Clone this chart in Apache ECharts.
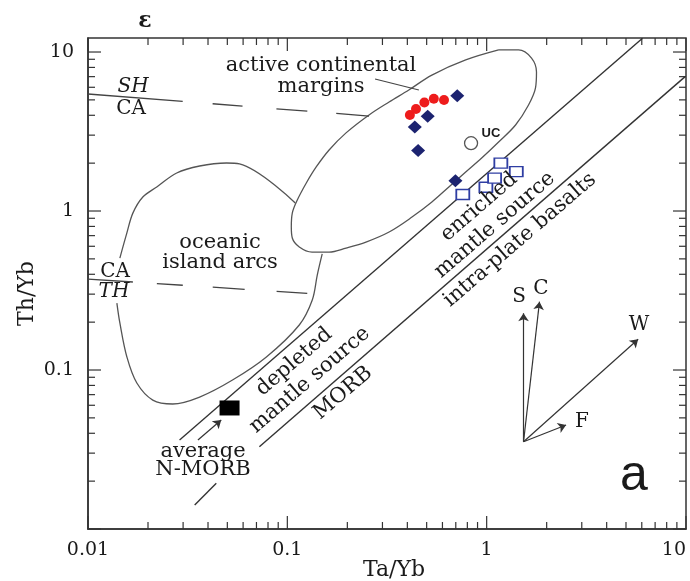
<!DOCTYPE html>
<html><head><meta charset="utf-8">
<script src="https://cdn.jsdelivr.net/npm/echarts@6/dist/echarts.min.js"></script>
<style>html,body{margin:0;padding:0;background:#fff}#c{width:690px;height:581px}</style>
</head><body><div id="c"></div>
<script>
// ---- axis ranges and ticks ----
const X_MIN = 0.01, X_MAX = 10;
const Y_MIN = 0.01, Y_MAX = 12.25;
const xTickLabels = [0.01, 0.1, 1, 10];
const yTickLabels = [0.1, 1, 10];
const xMajorTicks = [0.01, 0.1, 1, 10];
const xMinorTicks = [0.02,0.03,0.04,0.05,0.06,0.07,0.08,0.09,0.2,0.3,0.4,0.5,0.6,0.7,0.8,0.9,2,3,4,5,6,7,8,9];
const yMajorTicks = [0.01, 0.1, 1, 10];
const yMinorTicks = [0.02,0.03,0.04,0.05,0.06,0.07,0.08,0.09,0.2,0.3,0.4,0.5,0.6,0.7,0.8,0.9,2,3,4,5,6,7,8,9];

// ---- samples [Ta/Yb, Th/Yb] ----
const redCircles = [[0.412,4.02],[0.442,4.38],[0.487,4.81],[0.543,5.08],[0.611,4.99]];
const blueDiamonds = [[0.712,5.30],[0.506,3.94],[0.436,3.37],[0.453,2.40],[0.697,1.55]];
const openSquares = [[0.759,1.27],[0.991,1.41],[1.096,1.61],[1.178,2.00],[1.408,1.77]];
const upperCrust = [[0.835,2.67]];
const averageNMORB = [[0.0513,0.0577]];

// ---- field boundaries ----
const activeMarginEnvelope = [[1.148,10.3],[1.445,10.3],[1.679,9.16],[1.778,7.48],[1.758,5.94],[1.622,4.64],[1.396,3.475],[1.148,2.716],[0.944,2.153],[0.785,1.758],[0.646,1.416],[0.531,1.140],[0.422,0.916],[0.324,0.738],[0.248,0.638],[0.197,0.585],[0.162,0.552],[0.133,0.552],[0.1148,0.594],[0.1059,0.676],[0.1047,0.792],[0.1059,0.970],[0.1122,1.172],[0.1245,1.50],[0.1396,1.892],[0.162,2.42],[0.197,3.10],[0.257,4.02],[0.324,4.85],[0.407,5.77],[0.531,7.16],[0.785,8.91],[1.148,10.3]];
const oceanicArcUpper = [[0.01445,0.506],[0.01567,0.728],[0.01679,0.970],[0.01884,1.225],[0.02213,1.416],[0.02786,1.734],[0.03631,1.919],[0.04955,2.004],[0.05754,1.977],[0.1096,1.122]];
const oceanicArcLower = [[0.01396,0.2636],[0.01445,0.1977],[0.01567,0.1208],[0.01758,0.0828],[0.02113,0.0647],[0.02661,0.0611],[0.03631,0.0676],[0.05309,0.0865],[0.07852,0.1208],[0.1148,0.1919],[0.1334,0.2754],[0.1413,0.3954],[0.1496,0.537]];
const mantleArrayUpper = [[0.0288,0.0363],[6.05,12.2]];
const mantleArrayLowerA = [[0.0343,0.01416],[0.04401,0.01938]];
const mantleArrayLowerB = [[0.0724,0.03293],[9.9,7.0]];
const shCaDivide = [[0.01,5.445],[0.257,3.956]];
const caThDivide = [[0.01,0.3733],[0.1259,0.3034]];
const marginsLeader = [[0.2754,6.76],[0.457,5.77]];
const nMorbArrow = [[0.0356,0.0363],[0.0466,0.0485]];
const vectorOrigin = [1.531,0.0354];
const vectorNames = ['S','C','W','F'];
const vectorTips = [[1.531,0.2274],[1.841,0.269],[5.754,0.156],[2.503,0.0451]];

// ---- styles ----
const SERIF = '"DejaVu Serif", "Liberation Serif", serif';
const SANS = '"Liberation Sans", Arial, sans-serif';
const INK = '#1a1a1a';

function labelFmt(list) {
  return function (v) {
    for (const t of list) if (Math.abs(Math.log10(v) - Math.log10(t)) < 1e-6) return String(t);
    return '';
  };
}

const tickData = [];
xMajorTicks.forEach(v => tickData.push([v, Y_MIN, 0, 1]));
xMinorTicks.forEach(v => tickData.push([v, Y_MIN, 0, 0]));
yMajorTicks.forEach(v => tickData.push([X_MIN, v, 1, 1]));
yMinorTicks.forEach(v => tickData.push([X_MIN, v, 1, 0]));

function renderTick(params, api) {
  const cs = params.coordSys;
  const axis = api.value(2), major = api.value(3);
  const len = major ? 13 : 7;
  const st = { stroke: '#333', lineWidth: 1.2 };
  if (axis === 0) {
    const px = api.coord([api.value(0), Y_MIN])[0];
    const b = cs.y + cs.height, t = cs.y;
    return { type: 'group', children: [
      { type: 'line', shape: { x1: px, y1: b, x2: px, y2: b - len }, style: st },
      { type: 'line', shape: { x1: px, y1: t, x2: px, y2: t + len }, style: st }
    ] };
  } else {
    const py = api.coord([X_MIN, api.value(1)])[1];
    const l = cs.x, r = cs.x + cs.width;
    return { type: 'group', children: [
      { type: 'line', shape: { x1: l, y1: py, x2: l + len, y2: py }, style: st },
      { type: 'line', shape: { x1: r, y1: py, x2: r - len, y2: py }, style: st }
    ] };
  }
}

function lineSeries(data, color, width, type, smooth, z) {
  return { type: 'line', data: data, symbol: 'none', smooth: smooth || false, silent: true,
    lineStyle: { color: color, width: width, type: type || 'solid' }, z: z || 2, animation: false };
}

const ROT = 40.7 * Math.PI / 180;
function txt(text, x, y, o) {
  o = o || {};
  return { type: 'text', x: x, y: y, rotation: o.rot || 0, z: 50, silent: true,
    style: { text: text, fill: INK, fontSize: o.size || 21, fontFamily: o.family || SERIF,
      fontStyle: o.italic ? 'italic' : 'normal', fontWeight: o.bold ? 'bold' : 'normal',
      align: 'center', verticalAlign: 'middle', lineHeight: o.lh || undefined } };
}

const chart = echarts.init(document.getElementById('c'), null, { renderer: 'canvas' });
chart.setOption({
  animation: false,
  backgroundColor: '#fff',
  grid: { left: 88, top: 38, right: 4, bottom: 52, show: true, borderColor: '#333', borderWidth: 1.5,
    containLabel: false, outerBoundsMode: 'none' },
  xAxis: { type: 'log', logBase: 10, min: X_MIN, max: X_MAX,
    name: 'Ta/Yb', nameLocation: 'middle', nameGap: 30, nameMoveOverlap: false,
    nameTextStyle: { fontSize: 22, fontFamily: SERIF, color: INK, padding: [0, 0, 0, 14] },
    axisLine: { show: true, lineStyle: { color: '#333', width: 1.5 } },
    axisTick: { show: false }, splitLine: { show: false }, minorTick: { show: false },
    axisLabel: { formatter: labelFmt(xTickLabels), margin: 12, fontSize: 19, fontFamily: SERIF, color: INK,
      showMinLabel: true, showMaxLabel: true, alignMaxLabel: 'right' } },
  yAxis: { type: 'log', logBase: 10, min: Y_MIN, max: Y_MAX,
    name: 'Th/Yb', nameLocation: 'middle', nameGap: 50, nameMoveOverlap: false,
    nameTextStyle: { fontSize: 22, fontFamily: SERIF, color: INK, padding: [0, 20, 0, 0] },
    axisLine: { show: true, lineStyle: { color: '#333', width: 1.5 } },
    axisTick: { show: false }, splitLine: { show: false }, minorTick: { show: false },
    axisLabel: { formatter: labelFmt(yTickLabels), margin: 14, fontSize: 19, fontFamily: SERIF, color: INK,
      showMinLabel: true, showMaxLabel: true } },
  graphic: [
    txt('ɛ', 145, 21, { size: 22, bold: true }),
    txt('SH', 133, 87, { size: 20, italic: true }),
    txt('CA', 131, 108.5, { size: 20 }),
    txt('CA', 115, 271.5, { size: 20 }),
    txt('TH', 114, 292, { size: 20, italic: true }),
    txt('active continental\nmargins', 321, 76, { lh: 21 }),
    txt('oceanic\nisland arcs', 220, 253, { lh: 20 }),
    txt('average\nN-MORB', 203, 461, { lh: 18 }),
    txt('depleted\nmantle source', 302, 371, { rot: ROT, lh: 24 }),
    txt('MORB', 343, 393, { rot: ROT }),
    txt('enriched\nmantle source', 487, 216, { rot: ROT, lh: 24 }),
    txt('intra-plate basalts', 520, 240, { rot: ROT }),
    txt('UC', 491, 133.5, { size: 13, bold: true, family: SANS }),
    txt(vectorNames[0], 519, 297, { size: 20 }),
    txt(vectorNames[1], 541, 289, { size: 20 }),
    txt(vectorNames[2], 639, 325, { size: 20 }),
    txt(vectorNames[3], 582, 422, { size: 20 }),
    txt('a', 634, 476, { size: 50, family: SANS })
  ],
  series: [
    { type: 'custom', data: tickData, renderItem: renderTick, silent: true, z: 1, animation: false,
      encode: { x: 0, y: 1 } },
    lineSeries(activeMarginEnvelope, '#555', 1.3, 'solid', 0.35),
    lineSeries(oceanicArcUpper, '#555', 1.3, 'solid', 0.35),
    lineSeries(oceanicArcLower, '#555', 1.3, 'solid', 0.35),
    lineSeries(mantleArrayUpper, '#333', 1.4),
    lineSeries(mantleArrayLowerA, '#333', 1.4),
    lineSeries(mantleArrayLowerB, '#333', 1.4),
    lineSeries(shCaDivide, '#444', 1.3, [95,30,30,34,31,29,33]),
    lineSeries(caThDivide, '#444', 1.3, [45,24,26,30,32,32,31]),
    lineSeries(marginsLeader, '#444', 1.1),
    { type: 'lines', coordinateSystem: 'cartesian2d', silent: true, z: 3, animation: false,
      symbol: ['none', 'arrow'], symbolSize: 8,
      lineStyle: { color: '#333', width: 1.2, opacity: 1, curveness: 0 },
      data: vectorTips.map(t => ({ coords: [vectorOrigin, t] })).concat([{ coords: nMorbArrow }]) },
    { type: 'scatter', data: averageNMORB, symbol: 'rect', symbolSize: [20, 15], silent: true, z: 5,
      itemStyle: { color: '#000', opacity: 1 } },
    { type: 'scatter', data: upperCrust, symbol: 'circle', symbolSize: 13, silent: true, z: 5,
      itemStyle: { color: '#fff', borderColor: '#555', borderWidth: 1.3, opacity: 1 } },
    { type: 'scatter', data: openSquares, symbol: 'rect', symbolSize: [13, 10], silent: true, z: 5,
      itemStyle: { color: '#fff', borderColor: '#2f3ea3', borderWidth: 1.6, opacity: 1 } },
    { type: 'scatter', data: blueDiamonds, symbol: 'diamond', symbolSize: [14, 13], silent: true, z: 5,
      itemStyle: { color: '#1c2370', opacity: 1 } },
    { type: 'scatter', data: redCircles, symbol: 'circle', symbolSize: 10, silent: true, z: 6,
      itemStyle: { color: '#ee1c1c', opacity: 1 } }
  ]
});
</script></body></html>
